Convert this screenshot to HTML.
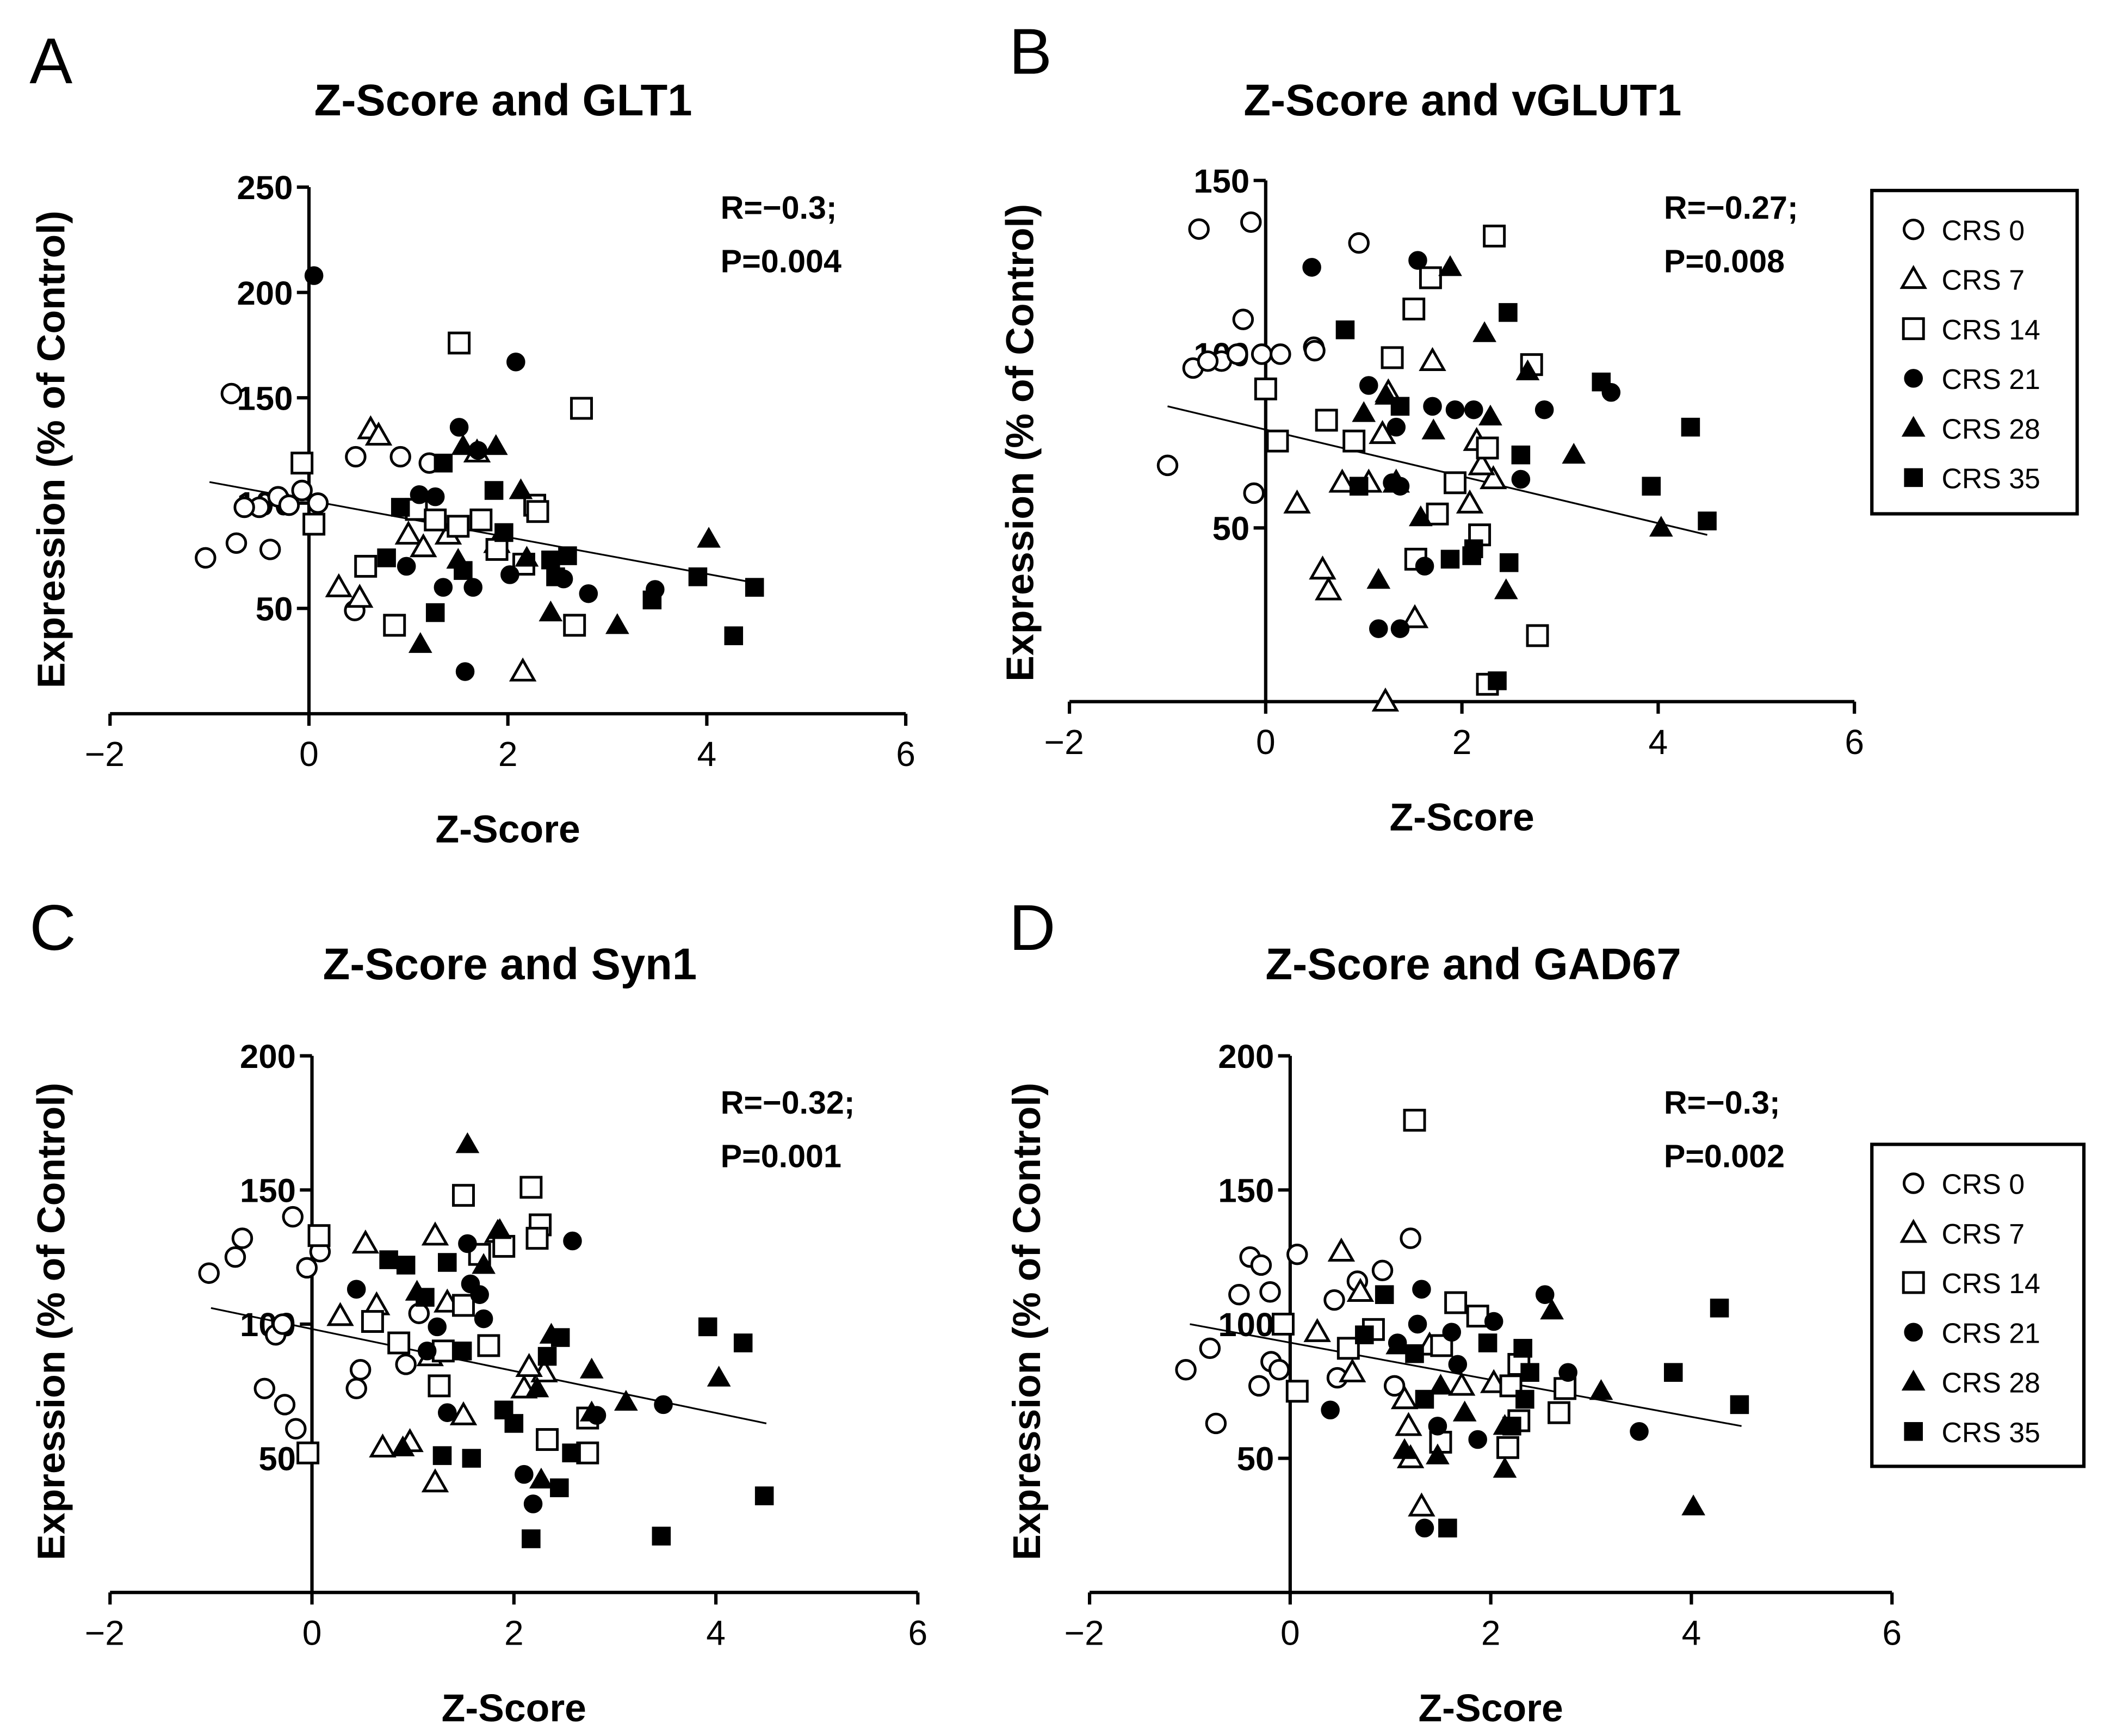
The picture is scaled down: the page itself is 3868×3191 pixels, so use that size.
<!DOCTYPE html>
<html><head><meta charset="utf-8"><style>
html,body{margin:0;padding:0;background:#fff}
svg{display:block}
text{font-family:"Liberation Sans",Arial,sans-serif;fill:#000}
</style></head><body>
<svg id="fig" width="3868" height="3191" viewBox="0 0 1568 1294" preserveAspectRatio="none" xmlns="http://www.w3.org/2000/svg"></svg>
<script>
// ---- Data: [z-score, expression] per group ----
const glt1_crs0=[[-1.04,74],[-0.73,81],[-0.78,152],[-0.39,78],[-0.5,98],[-0.65,98],[-0.31,103],[-0.2,99],[-0.07,106],[0.09,100],[0.47,122],[0.92,122],[0.46,49],[1.21,119]];
const glt1_crs7=[[0.62,135],[0.7,132],[0.3,60],[0.51,55],[1,85],[1.15,79],[1.4,85],[1.69,124],[2.15,20],[1.89,81]];
const glt1_crs14=[[-0.07,119],[0.05,90],[1.51,176],[2.74,145],[0.57,70],[0.86,42],[1.08,97],[1.27,92],[1.5,89],[1.73,92],[1.89,78],[2.16,71],[2.27,99],[2.3,96],[2.67,42]];
const glt1_crs21=[[0.05,208],[2.08,167],[1.51,136],[1.7,125],[1.11,104],[0.98,70],[1.35,60],[1.65,60],[2.02,66],[1.57,20],[2.56,64],[2.81,57],[3.48,59],[1.27,103]];
const glt1_crs28=[[1.55,127],[1.88,127],[1.12,33],[2.13,106],[2.43,48],[3.1,42],[4.02,83],[2.19,74],[1.5,73]];
const glt1_crs35=[[0.92,98],[1.35,119],[1.86,106],[1.27,48],[1.55,68],[1.96,86],[2.43,73],[2.6,75],[3.45,54],[3.91,65],[4.27,37],[4.48,60],[0.78,74],[2.48,65]];
const glt1_fit=[-1,110,4.5,62];
const glt1_stats=["R=\u22120.3;","P=0.004"];

const vglut_crs0=[[-0.68,136],[-0.15,138],[-1,68],[-0.12,60],[-0.23,110],[-0.74,96],[-0.45,98],[-0.29,100],[-0.04,100],[0.15,100],[0.49,102],[0.5,101],[0.95,132],[-0.59,98]];
const vglut_crs7=[[1.22,0],[0.32,57],[0.58,38],[0.64,32],[0.78,63],[1.05,63],[1.19,77],[1.25,89],[1.7,98],[1.52,24],[1.33,63],[2.15,75],[2.08,57],[2.32,64],[2.2,68]];
const vglut_crs14=[[0,90],[0.12,75],[0.62,81],[0.9,75],[1.29,99],[1.51,113],[1.68,122],[2.33,134],[2.71,97],[1.93,63],[1.75,54],[1.53,41],[2.26,73],[2.18,48],[2.77,19],[2.26,5]];
const vglut_crs21=[[0.47,125],[1.55,127],[1.05,91],[1.33,79],[1.7,85],[1.93,84],[2.12,84],[2.84,84],[3.52,89],[1.37,62],[1.15,21],[1.37,21],[1.62,39],[2.6,64],[1.29,63]];
const vglut_crs28=[[1.88,125],[2.23,106],[2.67,95],[1.23,88],[1.71,78],[1,83],[2.29,82],[3.14,71],[4.03,50],[2.45,32],[1.15,35],[1.58,53]];
const vglut_crs35=[[0.81,107],[2.47,112],[1.37,85],[3.42,92],[4.33,79],[3.93,62],[4.5,52],[2.6,71],[2.48,40],[1.88,41],[2.12,44],[2.36,6],[0.95,62],[2.1,42]];
const vglut_fit=[-1,85,4.5,48];
const vglut_stats=["R=\u22120.27;","P=0.008"];

const syn1_crs0=[[-1.02,119],[-0.76,125],[-0.69,132],[-0.19,140],[-0.05,121],[0.08,127],[-0.47,76],[-0.27,70],[-0.16,61],[-0.36,96],[-0.29,100],[0.48,83],[0.44,76],[0.93,85],[1.06,104]];
const syn1_crs7=[[0.53,130],[1.22,133],[0.28,103],[0.64,107],[0.7,54],[0.97,56],[1.22,41],[1.5,66],[1.84,134],[1.17,88],[1.34,108],[2.1,76],[2.3,82],[2.15,84]];
const syn1_crs14=[[0.07,133],[-0.04,52],[0.6,101],[0.86,93],[1.26,77],[1.5,148],[1.66,126],[1.9,129],[1.75,92],[1.5,107],[2.17,151],[2.26,137],[2.23,132],[2.33,57],[2.73,65],[2.73,52],[1.3,90]];
const syn1_crs21=[[0.44,113],[1.54,130],[1.57,115],[1.66,111],[2.58,131],[1.7,102],[1.34,67],[2.1,44],[2.19,33],[2.82,66],[3.48,70],[1.24,99],[1.14,90]];
const syn1_crs28=[[1.54,167],[1.86,135],[1.04,112],[1.7,122],[0.9,54],[2.23,76],[2.27,42],[2.77,67],[3.11,71],[4.03,80],[2.77,83],[2.37,96]];
const syn1_crs35=[[0.76,124],[0.93,122],[1.34,123],[1.12,110],[1.49,90],[1.9,68],[2.0,63],[1.29,51],[1.58,50],[2.17,20],[2.46,95],[2.33,88],[2.45,39],[2.57,52],[3.46,21],[3.92,99],[4.27,93],[4.48,36]];
const syn1_fit=[-1,106,4.5,63];
const syn1_stats=["R=\u22120.32;","P=0.001"];

const gad_crs0=[[-1.04,83],[-0.8,91],[-0.74,63],[-0.51,111],[-0.4,125],[-0.29,122],[-0.2,112],[-0.31,77],[-0.19,86],[-0.11,83],[0.07,126],[0.44,109],[0.67,116],[0.92,120],[1.2,132],[0.47,80],[1.04,77]];
const gad_crs7=[[0.27,97],[0.51,127],[0.62,82],[0.7,112],[1.2,50],[1.18,62],[1.31,32],[1.39,92],[1.71,77],[2.03,78],[1.14,72]];
const gad_crs14=[[-0.07,100],[0.07,75],[0.58,91],[0.83,98],[1.24,176],[1.65,108],[1.51,92],[1.87,103],[1.5,56],[2.17,54],[2.2,77],[2.28,64],[2.68,67],[2.74,76],[2.28,85]];
const gad_crs21=[[0.4,68],[1.07,93],[1.31,113],[1.61,97],[2.03,101],[2.54,111],[1.27,100],[1.47,62],[1.87,57],[1.34,24],[3.48,60],[2.77,82],[1.67,85]];
const gad_crs28=[[1.07,92],[1.5,77],[1.74,67],[2.14,46],[2.61,105],[3.1,75],[4.02,32],[1.47,51],[1.14,53],[2.14,62]];
const gad_crs35=[[0.74,96],[0.94,111],[1.24,89],[1.97,93],[2.32,91],[2.39,82],[1.57,24],[2.21,62],[3.82,82],[4.28,106],[4.48,70],[2.34,72],[1.34,72]];
const gad_fit=[-1,100,4.5,62];
const gad_stats=["R=\u22120.3;","P=0.002"];

const xTicks=[-2,0,2,4,6];
const yTicksA=[50,100,150,200,250];
const yTicksB=[50,100,150];
const yTicksCD=[50,100,150,200];
const groupNames=["CRS 0","CRS 7","CRS 14","CRS 21","CRS 28","CRS 35"];
const groupShapes=["circle","triangle","square","circle","triangle","square"];
const groupFilled=[false,false,false,true,true,true];

const NS="http://www.w3.org/2000/svg";
const svg=document.getElementById('fig');
function mk(tag,attrs,parent){const e=document.createElementNS(NS,tag);for(const k in attrs)e.setAttribute(k,attrs[k]);(parent||svg).appendChild(e);return e;}
function txt(s,attrs,parent){const e=mk('text',attrs,parent);e.textContent=s;return e;}

function marker(g,shape,filled,cx,cy){
  const st={fill:filled?'#000':'#fff',stroke:'#000','stroke-width':filled?1:2};
  let e;
  if(shape==='circle'){st.cx=cx;st.cy=cy;st.r=filled?6.5:7;e=mk('circle',st,g);}
  else if(shape==='square'){const s=filled?13:15;st.x=cx-s/2;st.y=cy-s/2;st.width=s;st.height=s;e=mk('rect',st,g);}
  else{const h=filled?8:8.5;st.points=`${cx},${cy-h} ${cx+h},${cy+h*0.75} ${cx-h},${cy+h*0.75}`;e=mk('polygon',st,g);}
  return e;
}

function panel(p){
  const g=mk('g',{});
  
  
  const X=v=>p.x0+(v-(-2))*(p.x1-p.x0)/8;
  const Y=v=>p.yb-(v)*p.ys;
  const zx=X(0);
  const L=txt(p.letter,{x:p.lx,y:p.ly,'font-size':48},g);
  
  const T=txt(p.title,{x:p.tx,y:p.ty,'font-size':33,'font-weight':'bold','text-anchor':'middle'},g);
  
  const xa=mk('line',{x1:p.x0,y1:p.yb,x2:p.x1,y2:p.yb,stroke:'#000','stroke-width':2.5},g);
  
  const ya=mk('line',{x1:zx,y1:p.yb,x2:zx,y2:Y(p.ymax),stroke:'#000','stroke-width':2.5},g);
  
  xTicks.forEach(t=>{
    const tk=mk('line',{x1:X(t),y1:p.yb,x2:X(t),y2:p.yb+9,stroke:'#000','stroke-width':2.5},g);
    
    const tl=txt(t<0?'\u2212'+(-t):String(t),{x:X(t)+(t<0?-4:0),y:p.yb+39,'font-size':26,'text-anchor':'middle'},g);
    
  });
  p.yt.forEach(t=>{
    const tk=mk('line',{x1:zx-9,y1:Y(t),x2:zx,y2:Y(t),stroke:'#000','stroke-width':2.5},g);
    
    const tl=txt(String(t),{x:zx-12,y:Y(t)+9,'font-size':25,'font-weight':'bold','text-anchor':'end'},g);
    
  });
  const xl=txt('Z-Score',{x:X(2),y:p.yb+96,'font-size':29,'font-weight':'bold','text-anchor':'middle'},g);
  
  const yl=txt('Expression (% of Control)',{x:0,y:0,'font-size':29,'font-weight':'bold','text-anchor':'middle',transform:`translate(${p.ylx},${p.yly}) rotate(-90)`},g);
  
  const f=p.fit;
  const fl=mk('line',{x1:X(f[0]),y1:Y(f[1]),x2:X(f[2]),y2:Y(f[3]),stroke:'#000','stroke-width':1.3},g);
  
  p.series.forEach((s,i)=>{
    s.forEach(d=>{
      const m=marker(g,groupShapes[i],groupFilled[i],X(d[0]),Y(d[1]));
      
      
    });
  });
  const s1=txt(p.stats[0],{x:p.sx,y:p.sy,'font-size':24,'font-weight':'bold'},g);
  
  const s2=txt(p.stats[1],{x:p.sx,y:p.sy+40,'font-size':24,'font-weight':'bold'},g);
  
  if(p.leg){
    const lg=mk('g',{},g);
    
    mk('rect',{x:p.leg[0],y:p.leg[1],width:p.leg[2],height:p.leg[3],fill:'#fff',stroke:'#000','stroke-width':2.5},lg);
    groupNames.forEach((n,i)=>{
      const yy=p.leg[1]+29+i*37;
      const e=mk('g',{},lg);
      
      marker(e,groupShapes[i],groupFilled[i],p.leg[0]+31,yy);
      txt(n,{x:p.leg[0]+52,y:yy+8,'font-size':21},e);
    });
  }
}

panel({name:'panel-a-glt1',letter:'A',lx:22,ly:62,title:'Z-Score and GLT1',tx:375,ty:86,x0:82,x1:675,yb:532,ys:1.57,ymax:250,yt:yTicksA,
  fit:glt1_fit,series:[glt1_crs0,glt1_crs7,glt1_crs14,glt1_crs21,glt1_crs28,glt1_crs35],stats:glt1_stats,sx:537,sy:163,ylx:48,yly:335});
panel({name:'panel-b-vglut1',letter:'B',lx:752,ly:55,title:'Z-Score and vGLUT1',tx:1090,ty:86,x0:797,x1:1382,yb:523,ys:2.59,ymax:150,yt:yTicksB,
  fit:vglut_fit,series:[vglut_crs0,vglut_crs7,vglut_crs14,vglut_crs21,vglut_crs28,vglut_crs35],stats:vglut_stats,sx:1240,sy:163,ylx:770,yly:330,leg:[1395,142,153,241]});
panel({name:'panel-c-syn1',letter:'C',lx:22,ly:708,title:'Z-Score and Syn1',tx:380,ty:730,x0:82,x1:684,yb:1187,ys:2,ymax:200,yt:yTicksCD,
  fit:syn1_fit,series:[syn1_crs0,syn1_crs7,syn1_crs14,syn1_crs21,syn1_crs28,syn1_crs35],stats:syn1_stats,sx:537,sy:830,ylx:48,yly:985});
panel({name:'panel-d-gad67',letter:'D',lx:752,ly:708,title:'Z-Score and GAD67',tx:1098,ty:730,x0:812,x1:1410,yb:1187,ys:2,ymax:200,yt:yTicksCD,
  fit:gad_fit,series:[gad_crs0,gad_crs7,gad_crs14,gad_crs21,gad_crs28,gad_crs35],stats:gad_stats,sx:1240,sy:830,ylx:775,yly:985,leg:[1395,853,158,240]});
</script>
</body></html>
